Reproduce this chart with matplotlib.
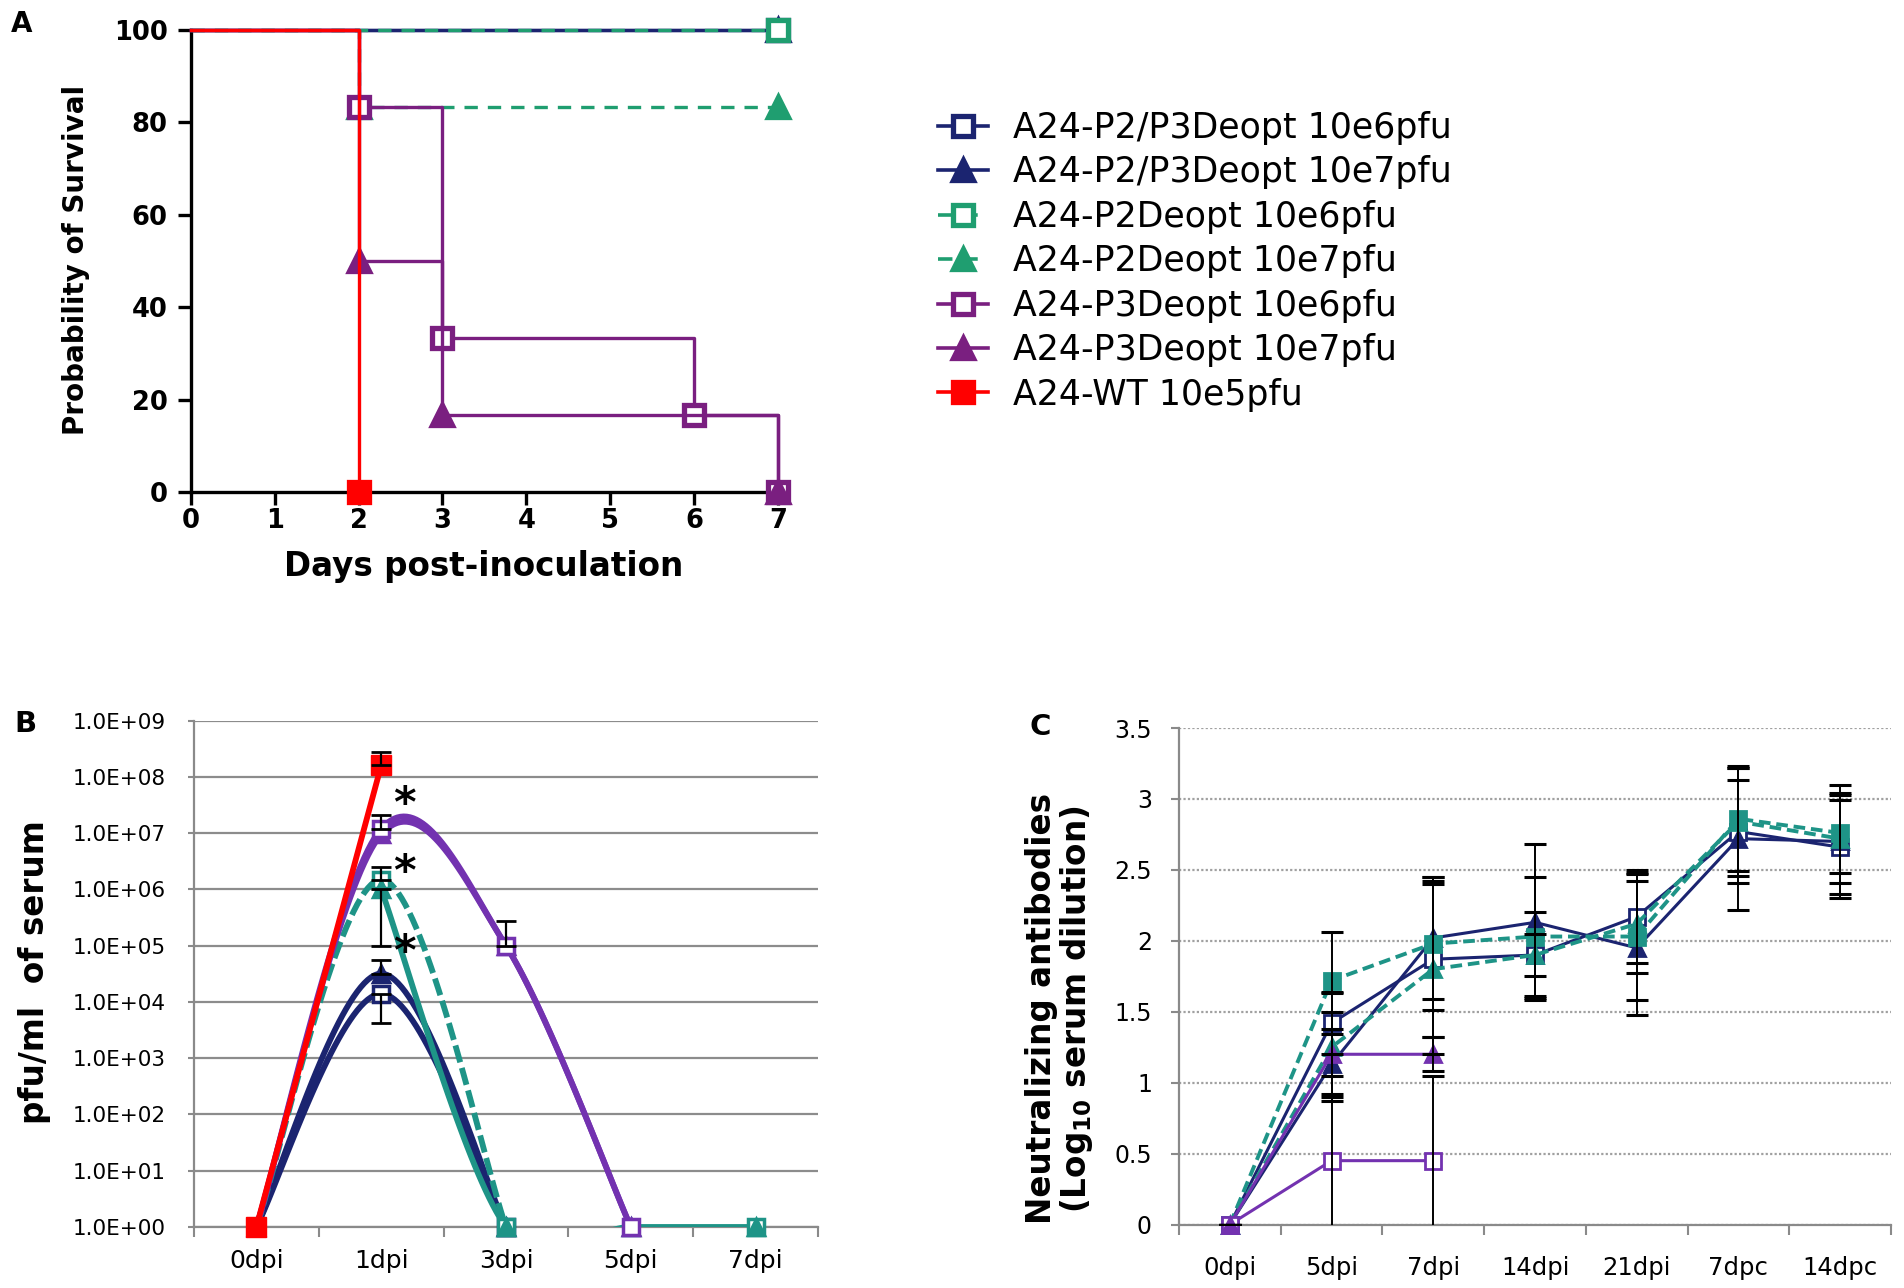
import numpy as np
import matplotlib
matplotlib.use("Agg")
import matplotlib.pyplot as plt
from matplotlib.lines import Line2D
from matplotlib.ticker import FixedLocator, FuncFormatter, NullLocator

plt.rcParams["font.family"] = ["DejaVu Sans"]

W, H = 1904, 1288

# ---------------- data ----------------
# panel A: Kaplan-Meier survival
series_labels = ["A24-P2/P3Deopt 10e6pfu", "A24-P2/P3Deopt 10e7pfu",
                 "A24-P2Deopt 10e6pfu", "A24-P2Deopt 10e7pfu",
                 "A24-P3Deopt 10e6pfu", "A24-P3Deopt 10e7pfu",
                 "A24-WT 10e5pfu"]
km_days_p23_6 = [0, 7]
km_surv_p23_6 = [100, 100]
km_days_p23_7 = [0, 7]
km_surv_p23_7 = [100, 100]
km_days_p2_6 = [0, 7]
km_surv_p2_6 = [100, 100]
km_days_p2_7 = [0, 2, 7]
km_surv_p2_7 = [100, 83.3, 83.3]
km_days_p3_6 = [0, 2, 3, 6, 7]
km_surv_p3_6 = [100, 83.3, 33.3, 16.7, 0]
km_days_p3_7 = [0, 2, 3, 7]
km_surv_p3_7 = [100, 50, 16.7, 0]
km_days_wt = [0, 2]
km_surv_wt = [100, 0]
a_xticks = [0, 1, 2, 3, 4, 5, 6, 7]
a_yticks = [0, 20, 40, 60, 80, 100]

# panel B: viremia (pfu/ml of serum)
b_days = ["0dpi", "1dpi", "3dpi", "5dpi", "7dpi"]
nan = np.nan
b_wt = [1, 1.6e8, nan, nan, nan]
b_wt_top = [nan, 2.8e8, nan, nan, nan]
b_p3_6 = [1, 1.2e7, 1.0e5, 1, nan]
b_p3_6_top = [nan, 2.1e7, 2.8e5, nan, nan]
b_p3_7 = [1, 9.5e6, 1.0e5, 1, nan]
b_p2_6 = [1, 1.5e6, 1, nan, 1]
b_p2_6_top = [nan, 2.5e6, nan, nan, nan]
b_p2_7 = [nan, 1.0e6, 1, 1, 1]
b_p2_7_bot = [nan, 1.0e5, nan, nan, nan]
b_p23_6 = [1, 1.4e4, 1, nan, nan]
b_p23_6_bot = [nan, 4.2e3, nan, nan, nan]
b_p23_7 = [1, 3.2e4, 1, nan, nan]
b_p23_7_top = [nan, 5.5e4, nan, nan, nan]
b_star_y = [3.2e7, 2.0e6, 7.3e4]
b_yticks = [1e0, 1e1, 1e2, 1e3, 1e4, 1e5, 1e6, 1e7, 1e8, 1e9]

# panel C: neutralizing antibodies (log10 serum dilution)
c_days = ["0dpi", "5dpi", "7dpi", "14dpi", "21dpi", "7dpc", "14dpc"]
c_p23_6 = [0, 1.42, 1.87, 1.90, 2.17, 2.77, 2.66]
c_p23_6_err = [0, 0.22, 0.55, 0.15, 0.33, 0.36, 0.33]
c_p23_7 = [0, 1.13, 2.02, 2.13, 1.95, 2.72, 2.70]
c_p23_7_err = [0, 0.21, 0.43, 0.55, 0.47, 0.50, 0.40]
c_p2_6 = [0, 1.72, 1.98, 2.03, 2.03, 2.86, 2.76]
c_p2_6_err = [0, 0.34, 0.47, 0.42, 0.45, 0.37, 0.28]
c_p2_7 = [0, 1.25, 1.80, 1.90, 2.12, 2.84, 2.72]
c_p2_7_err = [0, 0.38, 0.60, 0.30, 0.35, 0.38, 0.31]
c_p3_6 = [0, 0.45, 0.45]
c_p3_6_err = [0, 0.60, 0.60]
c_p3_7 = [0, 1.20, 1.20]
c_p3_7_err = [0, 0.30, 0.12]
c_yticks = [0, 0.5, 1, 1.5, 2, 2.5, 3, 3.5]

# ---------------- colours ----------------
navy = "#1B2470"
green_a = "#1F9E70"
purple_a = "#7A1F80"
red = "#FF0000"
teal = "#1E9487"
purple_b = "#7332B0"
grey_axis = "#8A8A8A"


def smooth_runs(x, y, n=40):
    # Excel-like smoothed line: cubic Bezier with Catmull-Rom control points
    x = np.asarray(x, float)
    y = np.asarray(y, float)
    ok = ~np.isnan(y)
    runs = []
    i = 0
    while i < len(y):
        if not ok[i]:
            i += 1
            continue
        j = i
        while j + 1 < len(y) and ok[j + 1]:
            j += 1
        px, py = x[i:j + 1], y[i:j + 1]
        m = len(px)
        if m > 1:
            sx, sy = [px[0]], [py[0]]
            t = np.linspace(0, 1, n)[1:]
            for k in range(m - 1):
                p0 = max(k - 1, 0)
                p3 = min(k + 2, m - 1)
                c1x = px[k] + (px[k + 1] - px[p0]) / 6
                c1y = py[k] + (py[k + 1] - py[p0]) / 6
                c2x = px[k + 1] - (px[p3] - px[k]) / 6
                c2y = py[k + 1] - (py[p3] - py[k]) / 6
                bx = (1 - t) ** 3 * px[k] + 3 * (1 - t) ** 2 * t * c1x + 3 * (1 - t) * t ** 2 * c2x + t ** 3 * px[k + 1]
                by = (1 - t) ** 3 * py[k] + 3 * (1 - t) ** 2 * t * c1y + 3 * (1 - t) * t ** 2 * c2y + t ** 3 * py[k + 1]
                sx.extend(bx)
                sy.extend(by)
            runs.append((np.array(sx), np.array(sy)))
        i = j + 1
    return runs


fig = plt.figure(figsize=(W / 100, H / 100), dpi=100)

# ================= Panel A =================
axA = fig.add_axes([190.7 / W, 1 - 492 / H, (778 - 190.7) / W, (492 - 30) / H])

a_styles = [
    dict(color=navy, ls="-", marker="s", mfc="white"),
    dict(color=navy, ls="-", marker="^", mfc=navy),
    dict(color=green_a, ls=(0, (4, 3)), marker="s", mfc="white"),
    dict(color=green_a, ls=(0, (4, 3)), marker="^", mfc=green_a),
    dict(color=purple_a, ls="-", marker="s", mfc="white"),
    dict(color=purple_a, ls="-", marker="^", mfc=purple_a),
    dict(color=red, ls="-", marker="s", mfc=red),
]
km_days = [km_days_p23_6, km_days_p23_7, km_days_p2_6, km_days_p2_7,
           km_days_p3_6, km_days_p3_7, km_days_wt]
km_surv = [km_surv_p23_6, km_surv_p23_7, km_surv_p2_6, km_surv_p2_7,
           km_surv_p3_6, km_surv_p3_7, km_surv_wt]

for i, (d, s) in enumerate(zip(km_days, km_surv)):
    st = a_styles[i]
    axA.plot(d, s, drawstyle="steps-post", color=st["color"], ls=st["ls"], lw=2.4,
             zorder=3 + i, clip_on=False)
    axA.plot(d[1:], s[1:], ls="none", marker=st["marker"], ms=15,
             mfc=st["mfc"], mec=st["color"], mew=3.8, zorder=3 + i, clip_on=False)

axA.set_xlim(0, 7)
axA.set_ylim(0, 100)
axA.set_xticks(a_xticks)
axA.set_yticks(a_yticks)
for sp in ["top", "right"]:
    axA.spines[sp].set_visible(False)
for sp in ["left", "bottom"]:
    axA.spines[sp].set_linewidth(2.4)
axA.tick_params(axis="both", direction="out", length=9.5, width=2.4, labelsize=18.5)
axA.tick_params(axis="y", pad=7)
axA.tick_params(axis="x", pad=2)
for lab in axA.get_xticklabels() + axA.get_yticklabels():
    lab.set_fontweight("bold")

fig.text(484 / W, 1 - 566 / H, "Days post-inoculation", ha="center", va="center",
         fontsize=23.5, fontweight="bold")
fig.text(76 / W, 1 - 260 / H, "Probability of Survival", ha="center", va="center",
         rotation=90, fontsize=20, fontweight="bold")

# legend (proxy handles)
handles = []
for st, lab in zip(a_styles, series_labels):
    handles.append(Line2D([], [], color=st["color"], ls=st["ls"], lw=2.6, marker=st["marker"],
                          ms=14, mfc=st["mfc"], mec=st["color"], mew=3.8, label=lab))
fig.legend(handles=handles, loc="upper left", bbox_to_anchor=(938 / W, 1 - 111 / H),
           frameon=False, fontsize=25, handlelength=1.45, handletextpad=0.7,
           labelspacing=0.3, borderpad=0, borderaxespad=0)

# ================= Panel B =================
axB = fig.add_axes([194 / W, 1 - 1227 / H, (818 - 194) / W, (1227 - 720.7) / H])
axB.set_yscale("log")
bx = np.arange(len(b_days))


def b_series(vals, color, marker, mfc, ls="-", lw=4.2, z=3):
    v = np.asarray(vals, float)
    for sx, sy in smooth_runs(bx, np.log10(v)):
        axB.plot(sx, 10 ** sy, color=color, ls=ls, lw=lw, zorder=z, solid_capstyle="round")
    axB.plot(bx, v, ls="none", marker=marker, ms=12, mfc=mfc, mec=color, mew=2.5,
             zorder=z + 0.5, clip_on=False)


def b_err(vals, top=None, bot=None):
    v = np.asarray(vals, float)
    lo = np.zeros_like(v)
    hi = np.zeros_like(v)
    if top is not None:
        hi = np.nan_to_num(np.asarray(top, float) - v)
    if bot is not None:
        lo = np.nan_to_num(v - np.asarray(bot, float))
    keep = (lo > 0) | (hi > 0)
    axB.errorbar(bx[keep], v[keep], yerr=[lo[keep], hi[keep]], fmt="none", ecolor="black",
                 elinewidth=1.6, capsize=7, capthick=2, zorder=10)


b_series(b_p23_6, navy, "s", "white", z=3)
b_series(b_p23_7, navy, "^", navy, z=3.2)
b_series(b_p2_6, teal, "s", "white", ls=(0, (3, 1)), z=4)
b_series(b_p2_7, teal, "^", teal, z=4.2)
b_series(b_p3_7, purple_b, "^", purple_b, z=5)
b_series(b_p3_6, purple_b, "s", "white", z=5.2)
b_series(b_wt, red, "s", red, z=6)
axB.plot(bx, b_wt, ls="none", marker="s", ms=14, mfc=red, mec=red, zorder=6.5, clip_on=False)

b_err(b_wt, top=b_wt_top)
b_err(b_p3_6, top=b_p3_6_top)
b_err(b_p2_6, top=b_p2_6_top)
b_err(b_p2_7, bot=b_p2_7_bot)
b_err(b_p23_6, bot=b_p23_6_bot)
b_err(b_p23_7, top=b_p23_7_top)

for yv in b_star_y:
    axB.text(1 + 0.19, yv, "*", ha="center", va="center", fontsize=31,
             fontweight="bold", zorder=12)

axB.set_xlim(-0.5, len(b_days) - 0.5)
axB.set_ylim(1, 1e9)
axB.yaxis.set_major_locator(FixedLocator(b_yticks))
axB.yaxis.set_minor_locator(NullLocator())
axB.yaxis.set_major_formatter(FuncFormatter(lambda v, p: f"{v:.1E}"))
axB.set_xticks(bx)
axB.set_xticklabels(b_days)
axB.set_xticks(np.arange(-0.5, len(b_days), 1), minor=True)
axB.tick_params(axis="x", which="major", length=0, pad=16, labelsize=18)
axB.tick_params(axis="x", which="minor", length=7.5, width=1.5, color=grey_axis)
axB.tick_params(axis="y", length=4.5, width=1.5, color=grey_axis, pad=16, labelsize=15.5)
axB.yaxis.grid(True, color="#8C8C8C", lw=1.6)
axB.set_axisbelow(True)
for sp in ["top", "right"]:
    axB.spines[sp].set_visible(False)
for sp in ["left", "bottom"]:
    axB.spines[sp].set_color(grey_axis)
    axB.spines[sp].set_linewidth(1.6)

fig.text(35 / W, 1 - 972 / H, "pfu/ml  of serum", ha="center", va="center",
         rotation=90, fontsize=23.5, fontweight="bold")

# ================= Panel C =================
axC = fig.add_axes([1179 / W, 1 - 1224.5 / H, (1891 - 1179) / W, (1224.5 - 728) / H])
cx = np.arange(len(c_days))


def c_series(vals, err, color, marker, mfc, ls="-", lw=2.2, z=3):
    n = len(vals)
    axC.plot(cx[:n], vals, color=color, ls=ls, lw=lw, zorder=z)
    axC.errorbar(cx[:n], vals, yerr=err, fmt="none", ecolor="black", elinewidth=1.4,
                 capsize=8, capthick=2.2, zorder=8)
    axC.plot(cx[:n], vals, ls="none", marker=marker, ms=12, mfc=mfc, mec=color, mew=2,
             zorder=z + 0.5, clip_on=False)


c_series(c_p23_6, c_p23_6_err, navy, "s", "white", z=3)
c_series(c_p23_7, c_p23_7_err, navy, "^", navy, z=3.2)
c_series(c_p2_7, c_p2_7_err, teal, "^", teal, ls=(0, (3, 1.5)), lw=2.8, z=4)
c_series(c_p2_6, c_p2_6_err, teal, "s", teal, ls=(0, (3, 1.5)), lw=2.8, z=4.2)
c_series(c_p3_6, c_p3_6_err, purple_b, "s", "white", z=5)
c_series(c_p3_7, c_p3_7_err, purple_b, "^", purple_b, z=5.2)

axC.set_xlim(-0.5, len(c_days) - 0.5)
axC.set_ylim(0, 3.5)
axC.set_yticks(c_yticks)
axC.yaxis.set_major_formatter(FuncFormatter(lambda v, p: f"{v:g}"))
axC.set_xticks(cx)
axC.set_xticklabels(c_days)
axC.set_xticks(np.arange(-0.5, len(c_days), 1), minor=True)
axC.tick_params(axis="x", which="major", length=0, pad=23, labelsize=17.5)
axC.tick_params(axis="x", which="minor", length=7.5, width=1.5, color=grey_axis)
axC.tick_params(axis="y", length=5.5, width=1.5, color=grey_axis, pad=14, labelsize=17)
axC.yaxis.grid(True, color="#A0A0A0", lw=1.6, ls=(0, (1, 1)))
axC.set_axisbelow(True)
for sp in ["top", "right"]:
    axC.spines[sp].set_visible(False)
for sp in ["left", "bottom"]:
    axC.spines[sp].set_color(grey_axis)
    axC.spines[sp].set_linewidth(1.6)

fig.text(1060 / W, 1 - 1009 / H, "Neutralizing antibodies\n(Log$_{\\mathbf{10}}$ serum dilution)",
         ha="center", va="center", rotation=90, fontsize=23.5, fontweight="bold",
         linespacing=1.0)

# panel letters
fig.text(22 / W, 1 - 24 / H, "A", ha="center", va="center", fontsize=20, fontweight="bold")
fig.text(25 / W, 1 - 724 / H, "B", ha="center", va="center", fontsize=21, fontweight="bold")
fig.text(1040 / W, 1 - 727 / H, "C", ha="center", va="center", fontsize=21, fontweight="bold")

fig.savefig("out.png", dpi=100)
